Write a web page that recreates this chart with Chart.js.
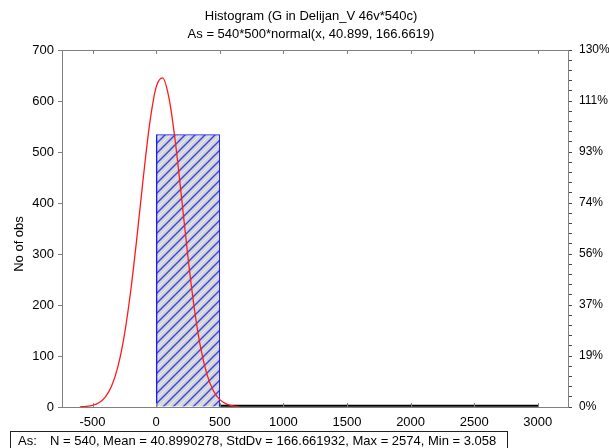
<!DOCTYPE html>
<html>
<head>
<meta charset="utf-8">
<script src="https://cdn.jsdelivr.net/npm/chart.js@4.4.1/dist/chart.umd.min.js"></script>
<style>
  html, body { margin: 0; padding: 0; background: #ffffff; }
  #wrap { width: 609px; height: 448px; position: relative; }
</style>
</head>
<body>
<div id="wrap"><canvas id="c" width="609" height="448"></canvas></div>
<script>
// Histogram bins (lower edge), bin width and observed counts
const binStarts = [0, 500, 1000, 1500, 2000, 2500];
const binWidth = 500;
const binCounts = [534, 2, 1, 1, 1, 1];

// Expected-normal curve: As = 540*500*normal(x, 40.899, 166.6619)
const curveX = [-600, -550, -500, -450, -400, -350, -300, -250, -200, -150, -100, -50, 0,
                50, 100, 150, 200, 250, 300, 350, 400, 450, 500, 550, 600, 650];
const curveY = [0.4, 1.2, 3.3, 8.4, 19.5, 41.3, 79.8, 140.9, 227.4, 335.4, 452.1, 557.0, 627.1,
                645.3, 606.9, 521.6, 409.8, 294.2, 193.1, 115.7, 63.5, 31.8, 14.5, 6.1, 2.3, 0.8];

// Axis ticks and labels
const xTicks = [-500, 0, 500, 1000, 1500, 2000, 2500, 3000];
const yTicks = [0, 100, 200, 300, 400, 500, 600, 700];
const pctLabels = ['0%', '19%', '37%', '56%', '74%', '93%', '111%', '130%'];

const titleLines = ['Histogram (G in Delijan_V 46v*540c)', 'As = 540*500*normal(x, 40.899, 166.6619)'];
const yTitle = 'No of obs';
const footLead = 'As:';
const footText = 'N = 540, Mean = 40.8990278, StdDv = 166.661932, Max = 2574, Min = 3.058';

const FONT = '"Liberation Sans", Arial, sans-serif';
const FS = 13;
const FRAME = '#808080';

// Blue diagonal hatch over light grey
function hatchPattern() {
  const s = 10;
  const cv = document.createElement('canvas');
  cv.width = s; cv.height = s;
  const g = cv.getContext('2d');
  g.fillStyle = '#d4d4d4';
  g.fillRect(0, 0, s, s);
  g.strokeStyle = 'rgba(240,240,240,0.9)';
  g.lineWidth = 1;
  g.beginPath();
  g.moveTo(-1, s / 2 + 1); g.lineTo(s / 2 + 1, -1);
  g.moveTo(s / 2 - 1, s + 1); g.lineTo(s + 1, s / 2 - 1);
  g.stroke();
  g.strokeStyle = '#3344ee';
  g.lineWidth = 1.4;
  g.beginPath();
  g.moveTo(-1, s + 1); g.lineTo(s + 1, -1);
  g.moveTo(-1, 1); g.lineTo(1, -1);
  g.moveTo(s - 1, s + 1); g.lineTo(s + 1, s - 1);
  g.stroke();
  return g.createPattern(cv, 'repeat');
}
const hatch = hatchPattern();

const barData = binStarts.map((b, i) => ({ x: b + binWidth / 2, y: binCounts[i] }));
const curveData = curveX.map((x, i) => ({ x: x, y: curveY[i] }));

// Frame, inner x ticks, texts
const decor = {
  id: 'decor',
  afterDatasetsDraw(chart) {
    const { ctx, chartArea: a, scales } = chart;
    ctx.save();
    ctx.strokeStyle = FRAME;
    ctx.lineWidth = 1;
    ctx.strokeRect(Math.round(a.left) + 0.5, Math.round(a.top) + 0.5,
                   Math.round(a.right - a.left) - 1, Math.round(a.bottom - a.top));
    ctx.beginPath();
    xTicks.forEach(v => {
      const px = Math.round(scales.x.getPixelForValue(v)) + 0.5;
      ctx.moveTo(px, a.top); ctx.lineTo(px, a.top + 4);
      ctx.moveTo(px, a.bottom); ctx.lineTo(px, a.bottom - 4);
    });
    ctx.stroke();
    ctx.restore();
  },
  afterDraw(chart) {
    const { ctx } = chart;
    ctx.save();
    ctx.fillStyle = '#000';
    ctx.font = FS + 'px ' + FONT;
    ctx.textAlign = 'center';
    ctx.textBaseline = 'middle';
    ctx.fillText(titleLines[0], 311, 16);
    ctx.fillText(titleLines[1], 311, 34);
    ctx.save();
    ctx.translate(19, 244);
    ctx.rotate(-Math.PI / 2);
    ctx.fillText(yTitle, 0, 0);
    ctx.restore();
    ctx.strokeStyle = '#222';
    ctx.lineWidth = 1;
    ctx.strokeRect(10.5, 431.5, 497, 22);
    ctx.textAlign = 'left';
    ctx.fillText(footLead, 18, 441);
    ctx.fillText(footText, 50, 441);
    ctx.restore();
  }
};

new Chart(document.getElementById('c'), {
  data: {
    datasets: [
      {
        type: 'line',
        data: curveData,
        borderColor: '#ff1a1a',
        borderWidth: 1.3,
        pointRadius: 0,
        cubicInterpolationMode: 'monotone',
        fill: false,
        order: 0
      },
      {
        type: 'bar',
        data: barData,
        backgroundColor: binCounts.map((c, i) => i === 0 ? hatch : '#000000'),
        borderColor: binCounts.map((c, i) => i === 0 ? '#1a1aff' : '#000000'),
        borderWidth: binCounts.map((c, i) => i === 0 ? { left: 1.5, right: 1, top: 1, bottom: 0 } : 0),
        borderSkipped: 'start',
        minBarLength: 2,
        barPercentage: 1.0,
        categoryPercentage: 1.0,
        grouped: false,
        order: 1
      }
    ]
  },
  options: {
    responsive: false,
    animation: false,
    events: [],
    layout: { padding: { left: 0, right: 0, top: 50, bottom: 16 } },
    plugins: { legend: { display: false }, tooltip: { enabled: false }, title: { display: false } },
    scales: {
      x: {
        type: 'linear',
        offset: false,
        min: -740,
        max: 3245,
        afterBuildTicks: s => { s.ticks = xTicks.map(v => ({ value: v })); },
        afterFit: s => { s.height = 25; },
        grid: { display: false, drawTicks: false, offset: false },
        border: { display: false },
        ticks: {
          color: '#000', font: { family: FONT, size: FS }, padding: 8, maxRotation: 0, autoSkip: false,
          callback: v => String(v)
        }
      },
      y: {
        type: 'linear',
        position: 'left',
        min: 0,
        max: 700,
        afterBuildTicks: s => { s.ticks = yTicks.map(v => ({ value: v })); },
        afterFit: s => { s.width = 62; },
        grid: { drawOnChartArea: false, drawTicks: true, tickLength: 4, color: FRAME },
        border: { display: false },
        ticks: { color: '#000', font: { family: FONT, size: FS }, padding: 4 }
      },
      y2: {
        type: 'linear',
        position: 'right',
        min: 0,
        max: 700,
        afterBuildTicks: s => {
          const t = [];
          for (let v = 0; v <= 700; v += 20) t.push({ value: v });
          s.ticks = t;
        },
        afterFit: s => { s.width = 40; },
        grid: { drawOnChartArea: false, drawTicks: true, tickLength: 3, color: '#444' },
        border: { display: false },
        ticks: {
          color: '#000',
          font: { family: FONT, size: 12 },
          padding: 7,
          autoSkip: false,
          callback: v => (v % 100 === 0 ? pctLabels[v / 100] : '')
        }
      }
    }
  },
  plugins: [decor]
});
</script>
</body>
</html>
